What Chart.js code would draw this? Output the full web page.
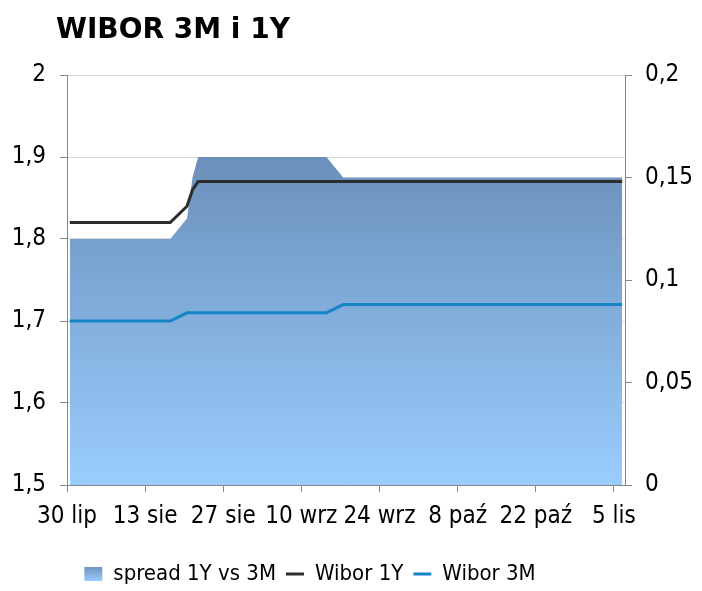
<!DOCTYPE html>
<html><head><meta charset="utf-8">
<script src="https://cdn.jsdelivr.net/npm/chart.js@4.4.0/dist/chart.umd.min.js"></script>
<style>html,body{margin:0;padding:0;background:#fff;}canvas{display:block;}</style>
</head><body>
<canvas id="c" width="702" height="591"></canvas>
<script>
// ---- data (day offsets counted from 30 lip) ----
const chartTitle = 'WIBOR 3M i 1Y';
const seriesNames = ['spread 1Y vs 3M', 'Wibor 1Y', 'Wibor 3M'];
const dayOffsets = [0, 18, 21, 22, 23, 46, 49, 99];
const wibor1Y = [1.82, 1.82, 1.84, 1.86, 1.87, 1.87, 1.87, 1.87];
const wibor3M = [1.70, 1.70, 1.71, 1.71, 1.71, 1.71, 1.72, 1.72];
const spread1Yvs3M = [0.12, 0.12, 0.13, 0.15, 0.16, 0.16, 0.15, 0.15];
const xTickDays = [0, 14, 28, 42, 56, 70, 84, 98];
const xTickLabels = ['30 lip', '13 sie', '27 sie', '10 wrz', '24 wrz', '8 paź', '22 paź', '5 lis'];
const leftTicks = [1.5, 1.6, 1.7, 1.8, 1.9, 2];
const rightTicks = [0, 0.05, 0.1, 0.15, 0.2];

const FONT = '"DejaVu Sans Condensed", "DejaVu Sans", Verdana, sans-serif';
const TFONT = '"DejaVu Sans", Verdana, sans-serif';
const AXIS = '#868686';
const fmt = v => String(Number(v.toFixed(3))).replace('.', ',');

function areaGradient(chart, yTop, yBottom) {
  const g = chart.ctx.createLinearGradient(0, yTop, 0, yBottom);
  g.addColorStop(0, '#6b90ba');
  g.addColorStop(1, '#9acdff');
  return g;
}

const titlePlugin = {
  id: 'titleText',
  afterDraw(chart) {
    const c = chart.ctx;
    c.save();
    c.font = 'bold 28px ' + TFONT;
    c.fillStyle = '#000';
    c.textBaseline = 'alphabetic';
    c.fillText(chartTitle, 56, 38);
    c.restore();
  }
};
const legendShift = {
  id: 'legendShift',
  afterLayout(chart) {
    const l = chart.legend;
    l.left -= 41; l.right -= 41;
  }
};

new Chart(document.getElementById('c'), {
  type: 'line',
  data: {
    datasets: [
      {
        label: seriesNames[0],
        data: dayOffsets.map((d, i) => ({x: d, y: spread1Yvs3M[i]})),
        yAxisID: 'y1',
        fill: 'origin',
        borderWidth: 0,
        pointRadius: 0,
        tension: 0,
        order: 2,
        backgroundColor: (ctx) => {
          const ch = ctx.chart, ca = ch.chartArea;
          if (!ca || !ch.scales.y1) return '#80aadd';
          return areaGradient(ch, ch.scales.y1.getPixelForValue(Math.max(...spread1Yvs3M)), ca.bottom);
        }
      },
      {
        label: seriesNames[1],
        data: dayOffsets.map((d, i) => ({x: d, y: wibor1Y[i]})),
        yAxisID: 'y',
        borderColor: '#2d2d2d',
        backgroundColor: '#2d2d2d',
        borderWidth: 3,
        pointRadius: 0,
        fill: false,
        tension: 0,
        order: 1
      },
      {
        label: seriesNames[2],
        data: dayOffsets.map((d, i) => ({x: d, y: wibor3M[i]})),
        yAxisID: 'y',
        borderColor: '#1585c7',
        backgroundColor: '#1585c7',
        borderWidth: 3,
        pointRadius: 0,
        fill: false,
        tension: 0,
        order: 0
      }
    ]
  },
  options: {
    responsive: false,
    animation: false,
    devicePixelRatio: 1,
    layout: {padding: {top: 75, left: 0, right: 0, bottom: -4}},
    plugins: {
      tooltip: {enabled: false},
      title: {display: false},
      legend: {
        position: 'bottom',
        labels: {
          font: {family: FONT, size: 22},
          color: '#000',
          usePointStyle: true,
          pointStyleWidth: 18,
          boxHeight: 14,
          padding: 10,
          sort: (a, b) => a.datasetIndex - b.datasetIndex,
          generateLabels(chart) {
            const items = Chart.defaults.plugins.legend.labels.generateLabels(chart);
            items.forEach(it => {
              if (it.datasetIndex === 0) {
                it.pointStyle = 'rect';
                it.lineWidth = 0;
                it.fillStyle = areaGradient(chart, 566, 581);
              } else {
                it.pointStyle = 'line';
                it.lineWidth = 3;
              }
            });
            return items;
          }
        }
      }
    },
    scales: {
      x: {
        type: 'linear',
        min: -0.5,
        max: 99.5,
        afterBuildTicks: s => { s.ticks = xTickDays.map(v => ({value: v - 0.5})); },
        ticks: {
          autoSkip: false,
          maxRotation: 0,
          padding: 10,
          color: '#000',
          font: {family: FONT, size: 24},
          callback: (v, i) => xTickLabels[i]
        },
        grid: {drawOnChartArea: false, tickLength: 7, color: AXIS, tickColor: AXIS},
        border: {color: AXIS},
        afterFit: s => { s.height = 68; }
      },
      y: {
        position: 'left',
        min: 1.5,
        max: 2,
        afterBuildTicks: s => { s.ticks = leftTicks.map(v => ({value: v})); },
        ticks: {
          padding: 14,
          color: '#000',
          font: {family: FONT, size: 24},
          callback: v => fmt(v)
        },
        grid: {color: '#d9d9d9', tickColor: AXIS, tickLength: 7},
        border: {color: AXIS},
        afterFit: s => { s.width = 67; }
      },
      y1: {
        position: 'right',
        min: 0,
        max: 0.2,
        afterBuildTicks: s => { s.ticks = rightTicks.map(v => ({value: v})); },
        ticks: {
          padding: 13,
          color: '#000',
          font: {family: FONT, size: 24},
          callback: v => fmt(v)
        },
        grid: {drawOnChartArea: false, tickColor: AXIS, tickLength: 7},
        border: {color: AXIS},
        afterFit: s => { s.width = 77; }
      }
    }
  },
  plugins: [titlePlugin, legendShift]
});
</script>
</body></html>
